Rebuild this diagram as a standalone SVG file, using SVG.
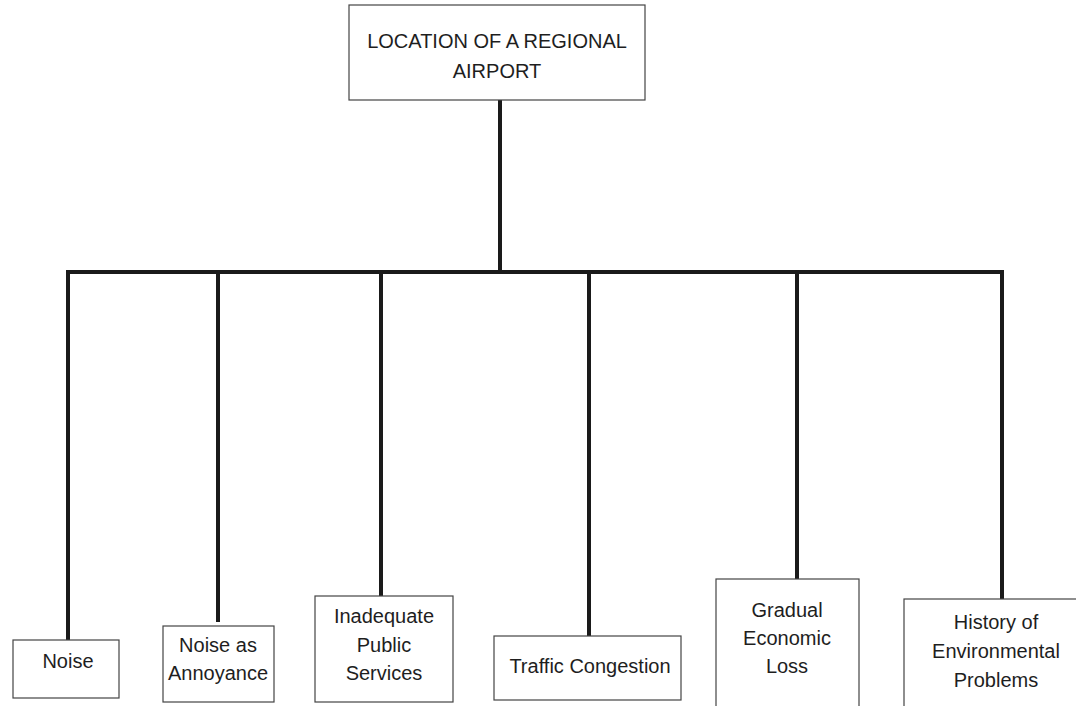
<svg xmlns="http://www.w3.org/2000/svg" width="1076" height="706" viewBox="0 0 1076 706">
  <style>
    .box { fill: #ffffff; stroke: #444444; stroke-width: 1.2; }
    .lbl { font-family: "Liberation Sans", Arial, sans-serif; font-size: 20px; fill: #1e1e1e; text-anchor: middle; }
    .wire { stroke: #1a1a1a; stroke-width: 4; fill: none; stroke-linecap: square; }
  </style>
  <rect width="1076" height="706" fill="#ffffff"/>

  <!-- connectors: trunk, bus and one drop per child -->
  <g id="connectors">
    <line class="wire" x1="500" y1="101" x2="500" y2="272"/>
    <line class="wire" x1="68" y1="272" x2="1002" y2="272"/>
    <line class="wire" x1="68" y1="272" x2="68" y2="639"/>
    <line class="wire" x1="218" y1="272" x2="218" y2="620"/>
    <line class="wire" x1="381" y1="272" x2="381" y2="595"/>
    <line class="wire" x1="589" y1="272" x2="589" y2="635"/>
    <line class="wire" x1="797" y1="272" x2="797" y2="578"/>
    <line class="wire" x1="1002" y1="272" x2="1002" y2="598"/>
  </g>

  <g id="root">
    <rect class="box" x="349" y="5" width="296" height="95"/>
    <text class="lbl" x="497" y="48">LOCATION OF A REGIONAL</text>
    <text class="lbl" x="497" y="78">AIRPORT</text>
  </g>

  <g id="noise">
    <rect class="box" x="13" y="640" width="106" height="58"/>
    <text class="lbl" x="68" y="668">Noise</text>
  </g>

  <g id="noise-annoyance">
    <rect class="box" x="163" y="626" width="111" height="76"/>
    <text class="lbl" x="218" y="652">Noise as</text>
    <text class="lbl" x="218" y="680">Annoyance</text>
  </g>

  <g id="public-services">
    <rect class="box" x="315" y="596" width="138" height="106"/>
    <text class="lbl" x="384" y="623">Inadequate</text>
    <text class="lbl" x="384" y="652">Public</text>
    <text class="lbl" x="384" y="680">Services</text>
  </g>

  <g id="traffic">
    <rect class="box" x="494" y="636" width="187" height="64"/>
    <text class="lbl" x="590" y="673">Traffic Congestion</text>
  </g>

  <g id="economic-loss">
    <rect class="box" x="716" y="579" width="143" height="140"/>
    <text class="lbl" x="787" y="617">Gradual</text>
    <text class="lbl" x="787" y="645">Economic</text>
    <text class="lbl" x="787" y="673">Loss</text>
  </g>

  <g id="environmental-history">
    <rect class="box" x="904" y="599" width="190" height="120"/>
    <text class="lbl" x="996" y="629">History of</text>
    <text class="lbl" x="996" y="658">Environmental</text>
    <text class="lbl" x="996" y="687">Problems</text>
  </g>
</svg>
